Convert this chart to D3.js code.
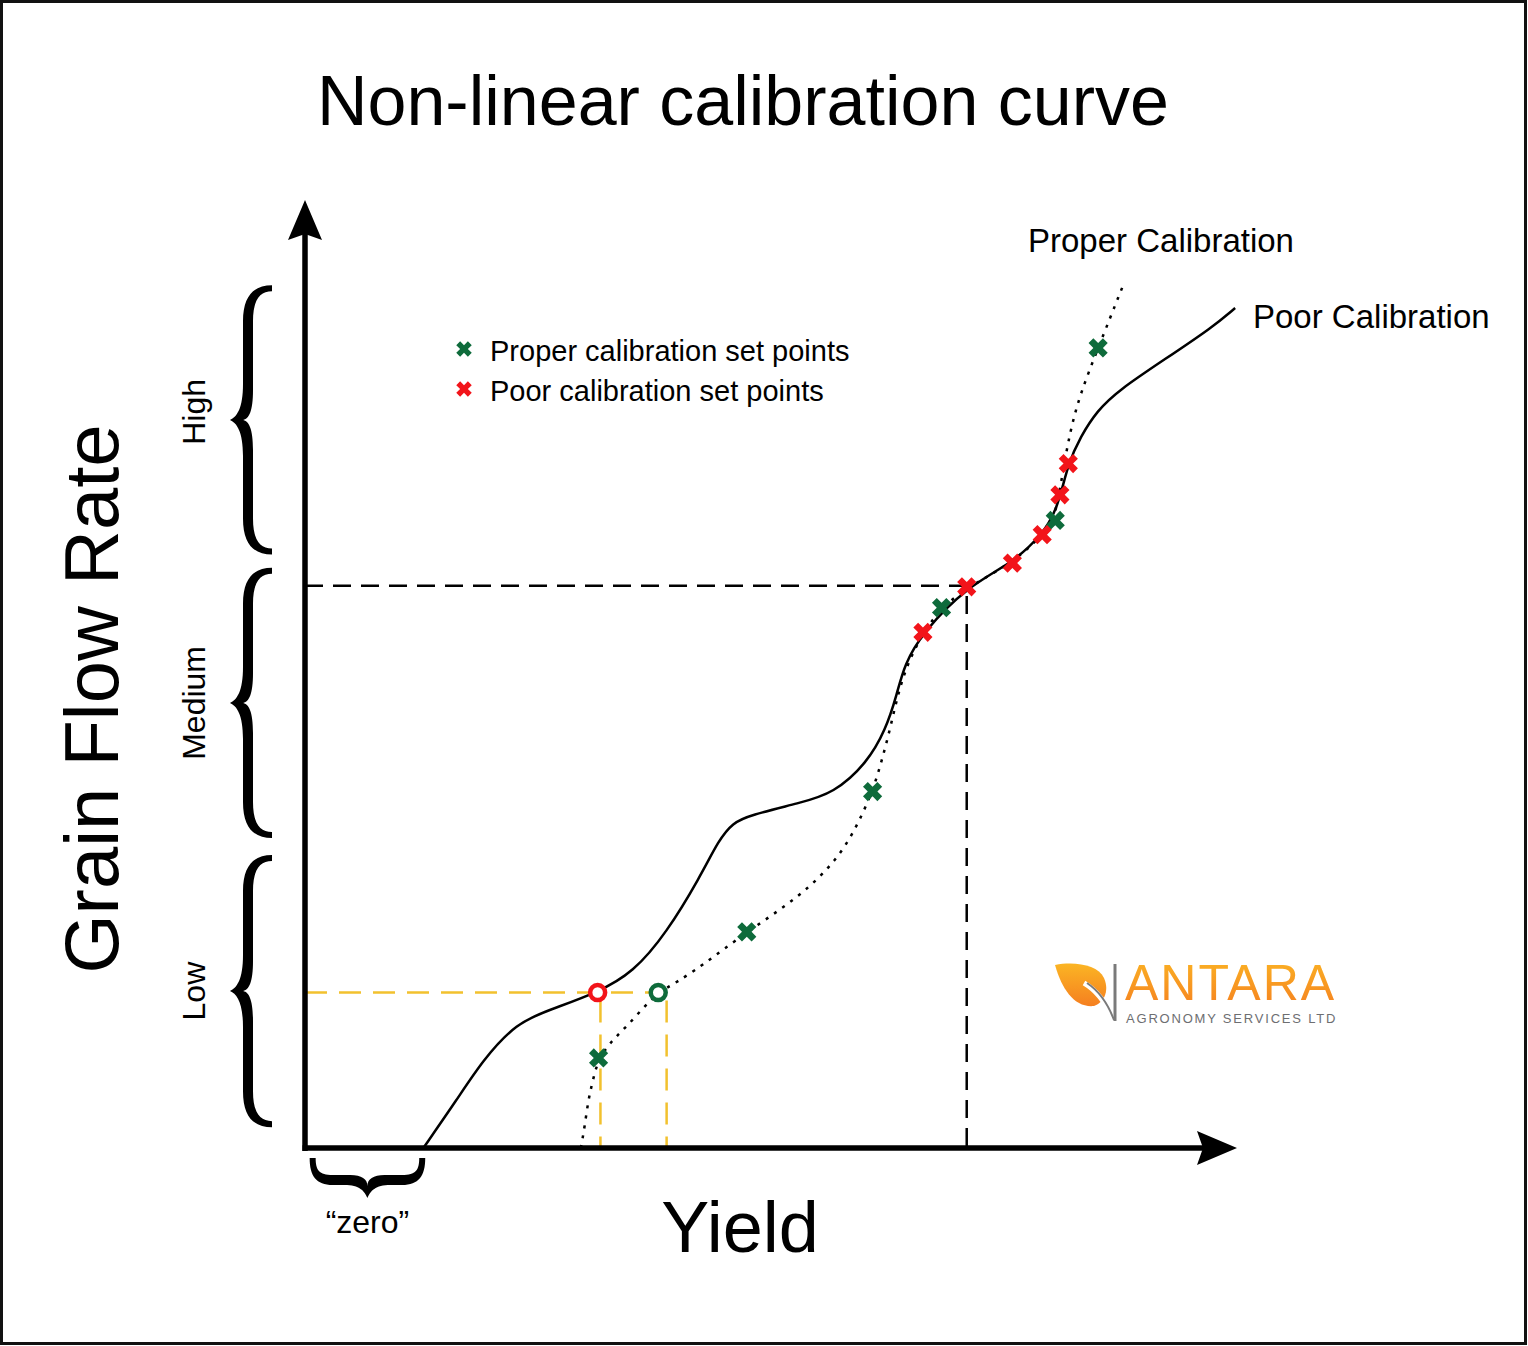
<!DOCTYPE html>
<html>
<head>
<meta charset="utf-8">
<script src="https://cdn.jsdelivr.net/npm/d3@7"></script>
<style>
  body { margin: 0; background: #fff; }
  text { font-family: "Liberation Sans", Arial, sans-serif; fill: #000; }
</style>
</head>
<body>
<div id="viz-container"></div>
<script>
// values, in % of each axis
let bandNames = ["Low", "Medium", "High"];
let bandRanges = [[2.2, 30.9], [32.7, 61.2], [62.6, 91.0]];
let zeroRange = [0.5, 12.9];

let poorCurve = [
  [12.7, 0], [16.3, 5.1], [19.1, 9.3], [22.7, 13.2], [26.3, 14.6], [31.4, 16.4],
  [35.2, 18.5], [38.8, 22.7], [42.4, 28.6], [44.4, 32.5], [45.9, 34.3], [47.7, 35.1],
  [53.1, 36.4], [56.7, 37.4], [60.3, 40.6], [62.3, 44.1], [63.5, 47.8], [64.3, 51.0],
  [66.3, 54.4], [71.0, 59.2], [75.9, 61.7], [79.1, 64.7], [80.7, 67.3], [81.9, 72.3],
  [83.2, 75.0], [85.0, 77.8], [87.4, 80.0], [92.1, 83.1], [97.4, 86.6], [99.8, 88.6]
];
let properCurve = [
  [29.6, 0], [30.0, 2.2], [30.4, 5.1], [30.9, 7.2], [31.5, 9.5], [33.0, 11.4],
  [34.5, 12.8], [36.3, 14.8], [37.9, 16.4], [39.9, 17.5], [42.4, 19.1], [47.4, 22.8],
  [53.1, 26.5], [57.1, 30.4], [59.2, 33.9], [60.9, 37.6], [61.9, 40.9], [62.8, 44.3],
  [63.6, 47.8], [64.7, 51.3], [66.5, 54.6], [68.3, 57.0], [71.0, 59.1], [75.9, 61.7],
  [79.1, 64.6], [80.5, 66.5], [81.2, 70.7], [82.1, 75.7], [83.2, 79.6], [85.1, 84.4],
  [87.7, 90.8]
];
let properPoints = [[31.5, 9.5], [47.4, 22.8], [60.9, 37.6], [68.3, 57.0], [80.5, 66.2], [85.1, 84.4]];
let poorPoints = [[66.3, 54.4], [71.0, 59.2], [75.9, 61.7], [79.1, 64.7], [81.0, 68.9], [81.9, 72.2]];

let zeroFlow = 16.4;          // low flow reading (yellow guide)
let poorZeroYield = 31.7;     // where the poor curve gives that flow
let properZeroYield = 38.8;   // where the proper curve gives that flow
let poorCircle = 31.4;
let properCircle = 37.9;
let calibPoint = [71.0, 59.3]; // black guide

let legendItems = ["Proper calibration set points", "Poor calibration set points"];

let green = "#0e6b3b";
let red = "#f2141a";
let yellow = "#f2c12e";

let svg = d3.select("#viz-container")
  .append("svg")
    .attr("width", 1528)
    .attr("height", 1346)
;

svg.append("rect")
    .attr("x", 1.5).attr("y", 1.5)
    .attr("width", 1524).attr("height", 1342)
    .attr("fill", "#fff")
    .attr("stroke", "#111")
    .attr("stroke-width", 3)
;

let x = d3.scaleLinear().domain([0, 100]).range([305, 1237]);
let y = d3.scaleLinear().domain([0, 100]).range([1148, 200]);

// title and axis names
svg.append("text")
    .attr("x", 743).attr("y", 125)
    .attr("text-anchor", "middle")
    .attr("font-size", 70)
    .text("Non-linear calibration curve");

svg.append("text")
    .attr("x", 740).attr("y", 1252)
    .attr("text-anchor", "middle")
    .attr("font-size", 72)
    .text("Yield");

svg.append("text")
    .attr("transform", "translate(118, 699) rotate(-90)")
    .attr("text-anchor", "middle")
    .attr("font-size", 76)
    .text("Grain Flow Rate");

// guide lines
let guides = svg.append("g").attr("fill", "none").attr("stroke-width", 2.5);

guides.append("path")
    .attr("d", d3.line()([[x(0), y(calibPoint[1])], [x(calibPoint[0]), y(calibPoint[1])], [x(calibPoint[0]), y(0)]]))
    .attr("stroke", "#000")
    .attr("stroke-dasharray", "18,10");

guides.append("line")
    .attr("x1", x(0)).attr("x2", x(properCircle))
    .attr("y1", y(zeroFlow)).attr("y2", y(zeroFlow))
    .attr("stroke", yellow)
    .attr("stroke-dasharray", "22,12");

guides.selectAll("line.v").data([poorZeroYield, properZeroYield]).enter()
  .append("line")
    .attr("class", "v")
    .attr("x1", d => x(d)).attr("x2", d => x(d))
    .attr("y1", y(zeroFlow) + 8).attr("y2", y(0))
    .attr("stroke", yellow)
    .attr("stroke-dasharray", "22,12");

// curves
let lineGen = d3.line()
    .x(d => x(d[0]))
    .y(d => y(d[1]))
    .curve(d3.curveBasis);

svg.append("path")
    .attr("d", lineGen(properCurve))
    .attr("fill", "none")
    .attr("stroke", "#000")
    .attr("stroke-width", 2.5)
    .attr("stroke-dasharray", "3,7");

svg.append("path")
    .attr("d", lineGen(poorCurve))
    .attr("fill", "none")
    .attr("stroke", "#000")
    .attr("stroke-width", 2.5);

// axes
svg.append("line")
    .attr("x1", x(0)).attr("x2", x(0))
    .attr("y1", y(0) + 3).attr("y2", y(100) + 32)
    .attr("stroke", "#000").attr("stroke-width", 5.5);
svg.append("line")
    .attr("x1", x(0) - 2.5).attr("x2", x(100) - 32)
    .attr("y1", y(0)).attr("y2", y(0))
    .attr("stroke", "#000").attr("stroke-width", 5.5);

svg.append("path")
    .attr("d", "M0,0 L17,40 L0,34 L-17,40 Z")
    .attr("transform", `translate(${x(0)}, ${y(100)})`)
    .attr("fill", "#000");
svg.append("path")
    .attr("d", "M0,0 L-40,-17 L-34,0 L-40,17 Z")
    .attr("transform", `translate(${x(100)}, ${y(0)})`)
    .attr("fill", "#000");

// braces
function bracePath(len, w){
  let hm = len / 2;
  let c = Math.min(36, len * 0.2);
  return `M${w},0 C${w - 18},0 13,${c * 0.28} 13,${c}` +
    ` L13,${hm - c} C13,${hm - c / 3} 7,${hm - 3} 0,${hm}` +
    ` C7,${hm + 3} 13,${hm + c / 3} 13,${hm + c}` +
    ` L13,${len - c} C13,${len - c * 0.28} ${w - 18},${len} ${w},${len}` +
    ` L${w},${len - 6} C${w - 12},${len - 6} 23,${len - c * 0.4} 23,${len - c}` +
    ` L23,${hm + c - 6} C23,${hm + c / 4} 19,${hm} 12,${hm}` +
    ` C19,${hm} 23,${hm - c / 4} 23,${hm - c + 6}` +
    ` L23,${c} C23,${c * 0.4} ${w - 12},6 ${w},6 Z`;
}

let braceW = 42;
svg.selectAll("path.brace").data(bandRanges).enter()
  .append("path")
    .attr("class", "brace")
    .attr("d", d => bracePath(y(d[0]) - y(d[1]), braceW))
    .attr("transform", d => `translate(${x(0) - 33 - braceW}, ${y(d[1])})`)
    .attr("fill", "#000");

svg.selectAll("text.band").data(bandNames).enter()
  .append("text")
    .attr("class", "band")
    .attr("transform", (d, i) => `translate(205, ${y((bandRanges[i][0] + bandRanges[i][1]) / 2) - (i == 2 ? 8 : 0)}) rotate(-90)`)
    .attr("text-anchor", "middle")
    .attr("font-size", 32)
    .text(d => d);

svg.append("path")
    .attr("d", bracePath(x(zeroRange[1]) - x(zeroRange[0]), 40))
    .attr("transform", `translate(${x(zeroRange[0])}, ${y(0) + 10 + 40}) rotate(-90)`)
    .attr("fill", "#000");

svg.append("text")
    .attr("x", (x(zeroRange[0]) + x(zeroRange[1])) / 2)
    .attr("y", 1233)
    .attr("text-anchor", "middle")
    .attr("font-size", 32)
    .text("\u201Czero\u201D");

// set points
let cross = d3.symbol().type(d3.symbolCross);

svg.selectAll("path.proper").data(properPoints).enter()
  .append("path")
    .attr("class", "proper")
    .attr("d", cross.size(230)())
    .attr("transform", d => `translate(${x(d[0])}, ${y(d[1])}) rotate(45)`)
    .attr("fill", green);

svg.selectAll("path.poor").data(poorPoints).enter()
  .append("path")
    .attr("class", "poor")
    .attr("d", cross.size(230)())
    .attr("transform", d => `translate(${x(d[0])}, ${y(d[1])}) rotate(45)`)
    .attr("fill", red);

// zero readings
svg.append("circle")
    .attr("cx", x(poorCircle)).attr("cy", y(zeroFlow)).attr("r", 7.5)
    .attr("fill", "#fff").attr("stroke", red).attr("stroke-width", 4.5);
svg.append("circle")
    .attr("cx", x(properCircle)).attr("cy", y(zeroFlow)).attr("r", 7.5)
    .attr("fill", "#fff").attr("stroke", green).attr("stroke-width", 4.5);

// curve labels
svg.append("text")
    .attr("x", 1028).attr("y", 252)
    .attr("font-size", 33)
    .text("Proper Calibration");
svg.append("text")
    .attr("x", 1253).attr("y", 328)
    .attr("font-size", 33)
    .text("Poor Calibration");

// legend
let legend = svg.append("g").attr("transform", "translate(464, 349)");
legend.selectAll("path").data(legendItems).enter()
  .append("path")
    .attr("d", cross.size(150)())
    .attr("transform", (d, i) => `translate(0, ${i * 40}) rotate(45)`)
    .attr("fill", (d, i) => i == 0 ? green : red);
legend.selectAll("text").data(legendItems).enter()
  .append("text")
    .attr("x", 26)
    .attr("y", (d, i) => 12 + i * 40)
    .attr("font-size", 29)
    .text(d => d);

// logo
let defs = svg.append("defs");
let grad = defs.append("linearGradient")
    .attr("id", "orange")
    .attr("x1", 0).attr("y1", 0).attr("x2", 0).attr("y2", 1);
grad.append("stop").attr("offset", "0%").attr("stop-color", "#fbb524");
grad.append("stop").attr("offset", "100%").attr("stop-color", "#f57f20");

let logo = svg.append("g");
logo.append("path")
    .attr("d", "M1055,965 C1075,961 1098,965 1104,978 C1110,992 1103,1003 1094,1006 C1075,1008 1062,990 1055,965 Z")
    .attr("fill", "url(#orange)");
logo.append("path")
    .attr("d", "M1084,983 C1096,990 1106,1003 1113,1019")
    .attr("fill", "none").attr("stroke", "#fff").attr("stroke-width", 5);
logo.append("path")
    .attr("d", "M1087,983 C1099,991 1108,1004 1114,1020")
    .attr("fill", "none").attr("stroke", "#7a7a7a").attr("stroke-width", 2);
logo.append("line")
    .attr("x1", 1115).attr("x2", 1115).attr("y1", 964).attr("y2", 1021)
    .attr("stroke", "#7a7a7a").attr("stroke-width", 3);
logo.append("text")
    .attr("x", 1125).attr("y", 1000)
    .attr("font-size", 50)
    .attr("letter-spacing", 2)
    .style("fill", "url(#orange)")
    .text("ANTARA");
logo.append("text")
    .attr("x", 1126).attr("y", 1023)
    .attr("font-size", 13)
    .attr("letter-spacing", 1.8)
    .style("fill", "#6d6e71")
    .text("AGRONOMY SERVICES LTD");
</script>
</body>
</html>
